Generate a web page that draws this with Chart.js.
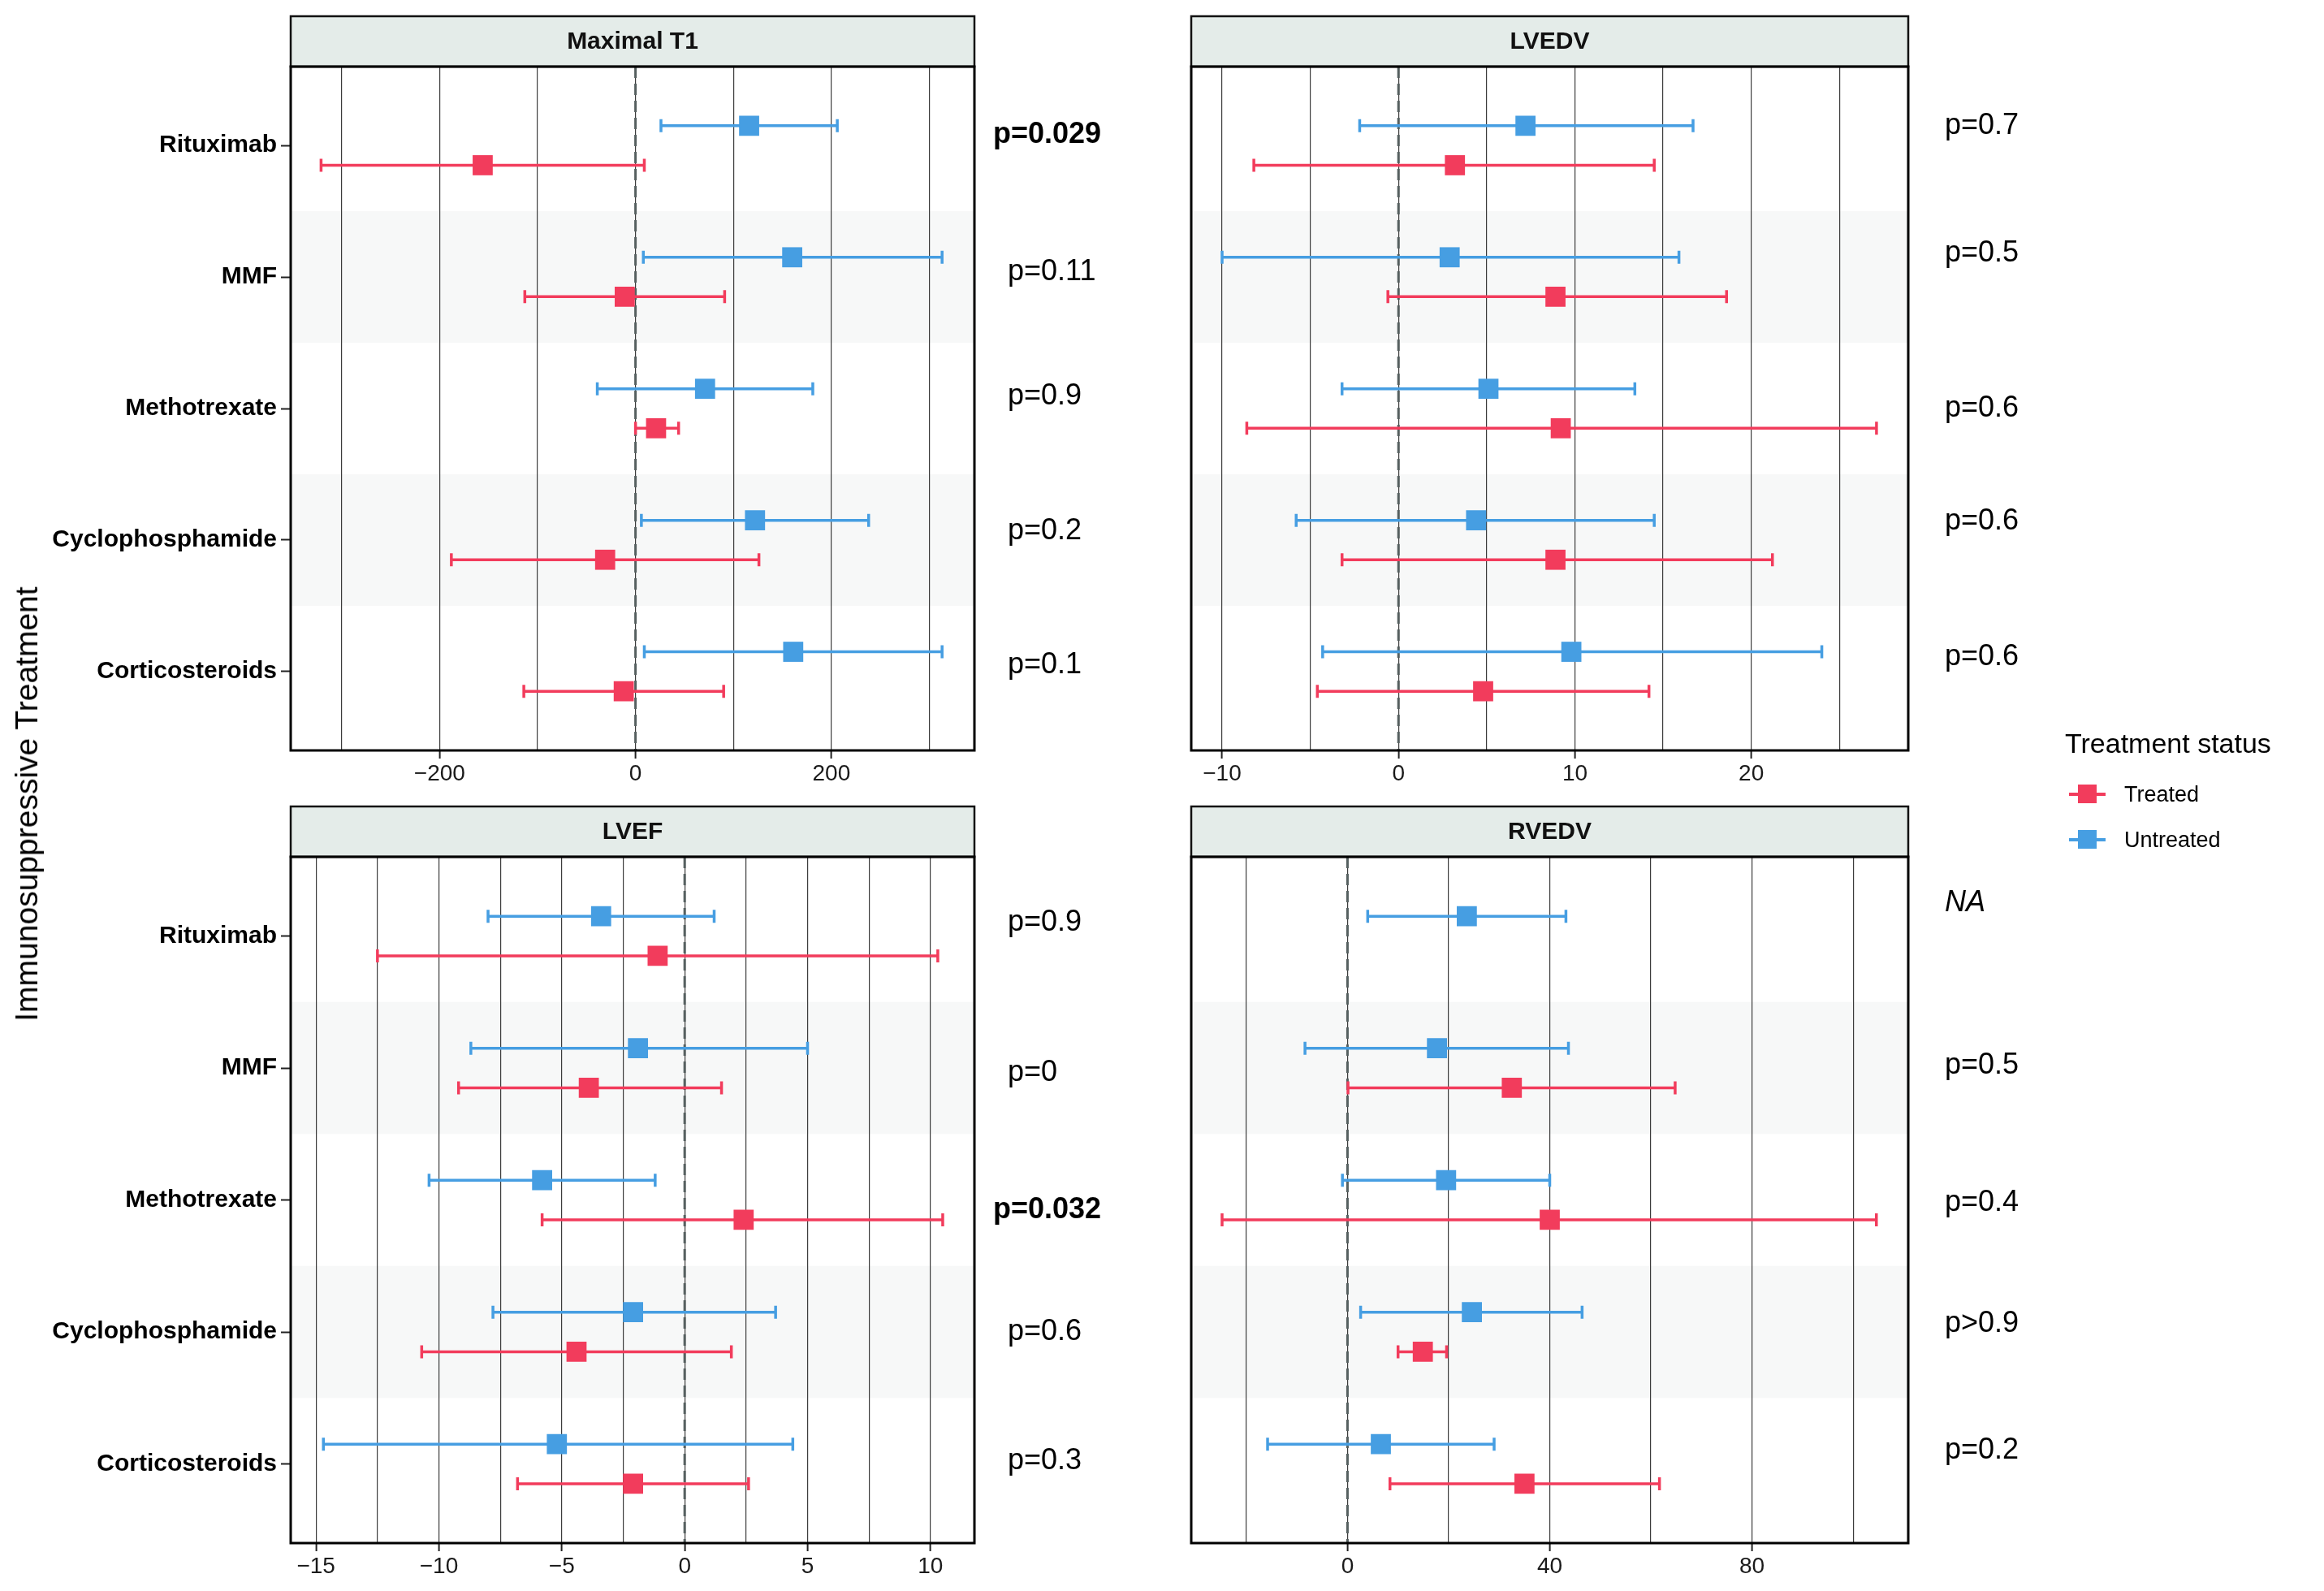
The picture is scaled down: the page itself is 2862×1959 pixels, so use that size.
<!DOCTYPE html>
<html>
<head>
<meta charset="utf-8">
<script src="https://cdn.jsdelivr.net/npm/chart.js@4.4.1/dist/chart.umd.min.js"></script>
<style>
html, body { margin: 0; padding: 0; background: #fff; }
body { width: 2862px; height: 1959px; position: relative; overflow: hidden; font-family: 'Liberation Sans', Arial, sans-serif; color: #000; }
canvas { position: absolute; }
#ytitle { position: absolute; left: 33px; top: 990px; transform: translate(-50%, -50%) rotate(-90deg); font-size: 39px; white-space: nowrap; }
.ltitle { position: absolute; left: 2543px; top: 896px; font-size: 34px; line-height: 38px; white-space: nowrap; }
.litem { position: absolute; left: 2616px; font-size: 27px; line-height: 30px; white-space: nowrap; }
.kline { position: absolute; width: 45px; height: 4px; }
.kbox { position: absolute; width: 23px; height: 23px; }
</style>
</head>
<body>
<canvas id="c1"></canvas>
<canvas id="c2"></canvas>
<canvas id="c3"></canvas>
<canvas id="c4"></canvas>
<div id="ytitle">Immunosuppressive Treatment</div>
<div class="ltitle">Treatment status</div>
<div class="kline" style="left:2548px; top:976px; background:#f23c5c"></div>
<div class="kbox" style="left:2559px; top:966px; background:#f23c5c"></div>
<div class="litem" style="top:963px">Treated</div>
<div class="kline" style="left:2548px; top:1032px; background:#469ee2"></div>
<div class="kbox" style="left:2559px; top:1022px; background:#469ee2"></div>
<div class="litem" style="top:1019px">Untreated</div>
<script>
const RED = '#f23c5c';
const BLUE = '#469ee2';
Chart.defaults.font.family = "'Liberation Sans', Arial, sans-serif";
Chart.defaults.color = '#000';

const categories = ['Rituximab', 'MMF', 'Methotrexate', 'Cyclophosphamide', 'Corticosteroids'];

// Maximal T1
const t1Treated = [-156, -11, 21, -31, -12];
const t1TreatedLow = [-321, -113, 0, -188, -114];
const t1TreatedHigh = [9, 91, 44, 126, 90];
const t1Untreated = [116, 160, 71, 122, 161];
const t1UntreatedLow = [26, 8, -39, 6, 9];
const t1UntreatedHigh = [206, 313, 181, 238, 313];
const t1P = ['p=0.029', 'p=0.11', 'p=0.9', 'p=0.2', 'p=0.1'];
const t1PRow = [0.92, 1.96, 2.91, 3.93, 4.95];
const t1Grid = [-300, -200, -100, 0, 100, 200, 300];
const t1Labels = [-200, 0, 200];

// LVEDV
const edvTreated = [3.2, 8.9, 9.2, 8.9, 4.8];
const edvTreatedLow = [-8.2, -0.6, -8.6, -3.2, -4.6];
const edvTreatedHigh = [14.5, 18.6, 27.1, 21.2, 14.2];
const edvUntreated = [7.2, 2.9, 5.1, 4.4, 9.8];
const edvUntreatedLow = [-2.2, -10.0, -3.2, -5.8, -4.3];
const edvUntreatedHigh = [16.7, 15.9, 13.4, 14.5, 24.0];
const edvP = ['p=0.7', 'p=0.5', 'p=0.6', 'p=0.6', 'p=0.6'];
const edvPRow = [0.85, 1.82, 3.0, 3.86, 4.89];
const edvGrid = [-10, -5, 0, 5, 10, 15, 20, 25];
const edvLabels = [-10, 0, 10, 20];

// LVEF
const efTreated = [-1.1, -3.9, 2.4, -4.4, -2.1];
const efTreatedLow = [-12.5, -9.2, -5.8, -10.7, -6.8];
const efTreatedHigh = [10.3, 1.5, 10.5, 1.9, 2.6];
const efUntreated = [-3.4, -1.9, -5.8, -2.1, -5.2];
const efUntreatedLow = [-8.0, -8.7, -10.4, -7.8, -14.7];
const efUntreatedHigh = [1.2, 5.0, -1.2, 3.7, 4.4];
const efP = ['p=0.9', 'p=0', 'p=0.032', 'p=0.6', 'p=0.3'];
const efPRow = [0.9, 2.04, 3.08, 4.0, 4.98];
const efGrid = [-15, -12.5, -10, -7.5, -5, -2.5, 0, 2.5, 5, 7.5, 10];
const efLabels = [-15, -10, -5, 0, 5, 10];

// RVEDV
const rvTreated = [null, 32.5, 40.0, 14.9, 35.0];
const rvTreatedLow = [null, 0.1, -24.8, 10.0, 8.4];
const rvTreatedHigh = [null, 64.8, 104.6, 19.6, 61.7];
const rvUntreated = [23.6, 17.7, 19.5, 24.6, 6.6];
const rvUntreatedLow = [4.0, -8.4, -1.0, 2.6, -15.8];
const rvUntreatedHigh = [43.2, 43.7, 40.0, 46.4, 29.0];
const rvP = ['NA', 'p=0.5', 'p=0.4', 'p>0.9', 'p=0.2'];
const rvPRow = [0.75, 1.98, 3.02, 3.94, 4.9];
const rvGrid = [-20, 0, 20, 40, 60, 80, 100];
const rvLabels = [0, 40, 80];

const panels = [
    { id: 'c1', title: 'Maximal T1', canvas: [0, 0, 1431, 990], area: [358, 82, 1200, 924], min: -352, max: 346,
      grid: t1Grid, labels: t1Labels, tr: [t1Treated, t1TreatedLow, t1TreatedHigh], un: [t1Untreated, t1UntreatedLow, t1UntreatedHigh],
      p: t1P, pRow: t1PRow, pX: 1241, showY: true },
    { id: 'c2', title: 'LVEDV', canvas: [1431, 0, 1431, 990], area: [1467, 82, 2350, 924], min: -11.75, max: 28.9,
      grid: edvGrid, labels: edvLabels, tr: [edvTreated, edvTreatedLow, edvTreatedHigh], un: [edvUntreated, edvUntreatedLow, edvUntreatedHigh],
      p: edvP, pRow: edvPRow, pX: 2395, showY: false },
    { id: 'c3', title: 'LVEF', canvas: [0, 980, 1431, 979], area: [358, 1055, 1200, 1900], min: -16.03, max: 11.79,
      grid: efGrid, labels: efLabels, tr: [efTreated, efTreatedLow, efTreatedHigh], un: [efUntreated, efUntreatedLow, efUntreatedHigh],
      p: efP, pRow: efPRow, pX: 1241, showY: true },
    { id: 'c4', title: 'RVEDV', canvas: [1431, 980, 1431, 979], area: [1467, 1055, 2350, 1900], min: -30.9, max: 110.9,
      grid: rvGrid, labels: rvLabels, tr: [rvTreated, rvTreatedLow, rvTreatedHigh], un: [rvUntreated, rvUntreatedLow, rvUntreatedHigh],
      p: rvP, pRow: rvPRow, pX: 2395, showY: false }
];

const X_AXIS_H = 50;
const STRIP_H = 62;

function points(series, shift) {
    const [est, lo, hi] = series;
    const out = [];
    est.forEach((v, i) => {
        if (v === null) return;
        out.push({ x: v, y: i + 1 + shift, lo: lo[i], hi: hi[i] });
    });
    return out;
}

function fmt(v) {
    return v < 0 ? '\u2212' + Math.abs(v) : String(v);
}

function forestPlugin(panel) {
    return {
        id: 'forest',
        beforeDraw(chart) {
            // light bands behind every second treatment row
            const { ctx, chartArea: a, scales: { y } } = chart;
            ctx.save();
            ctx.fillStyle = '#f7f8f8';
            [2, 4].forEach(r => {
                const t = y.getPixelForValue(r - 0.5), b = y.getPixelForValue(r + 0.5);
                ctx.fillRect(a.left, Math.min(t, b), a.right - a.left, Math.abs(b - t));
            });
            ctx.restore();
        },
        beforeDatasetsDraw(chart) {
            const { ctx, chartArea: a, scales: { x, y } } = chart;
            ctx.save();
            const x0 = x.getPixelForValue(0);
            ctx.strokeStyle = '#566060';
            ctx.lineWidth = 3;
            ctx.setLineDash([14, 7]);
            ctx.beginPath();
            ctx.moveTo(x0, a.top);
            ctx.lineTo(x0, a.bottom);
            ctx.stroke();
            ctx.setLineDash([]);
            // error bars
            chart.data.datasets.forEach(ds => {
                ctx.strokeStyle = ds.backgroundColor;
                ctx.lineWidth = 3.5;
                ds.data.forEach(pt => {
                    const yy = y.getPixelForValue(pt.y);
                    const l = x.getPixelForValue(pt.lo), h = x.getPixelForValue(pt.hi);
                    ctx.beginPath();
                    ctx.moveTo(l, yy); ctx.lineTo(h, yy);
                    ctx.moveTo(l, yy - 8); ctx.lineTo(l, yy + 8);
                    ctx.moveTo(h, yy - 8); ctx.lineTo(h, yy + 8);
                    ctx.stroke();
                });
            });
            ctx.restore();
        },
        afterDraw(chart) {
            const { ctx, chartArea: a, scales: { y } } = chart;
            ctx.save();
            // facet strip
            ctx.fillStyle = '#e4ece9';
            ctx.fillRect(a.left, a.top - STRIP_H, a.right - a.left, STRIP_H);
            ctx.strokeStyle = '#111';
            ctx.lineWidth = 2.5;
            ctx.strokeRect(a.left, a.top - STRIP_H, a.right - a.left, STRIP_H);
            ctx.fillStyle = '#111';
            ctx.font = "bold 30px 'Liberation Sans', Arial, sans-serif";
            ctx.textAlign = 'center';
            ctx.textBaseline = 'middle';
            ctx.fillText(panel.title, (a.left + a.right) / 2, a.top - STRIP_H / 2 + 1);
            // panel border
            ctx.strokeStyle = '#000';
            ctx.lineWidth = 3;
            ctx.strokeRect(a.left, a.top, a.right - a.left, a.bottom - a.top);
            // p-values
            const px = panel.pX - panel.canvas[0];
            ctx.textAlign = 'left';
            panel.p.forEach((t, i) => {
                let font = "36px 'Liberation Sans', Arial, sans-serif";
                let shift = 0;
                const num = parseFloat(t.replace(/[^0-9.]/g, ''));
                if (t === 'NA') font = "italic 36px 'Liberation Sans', Arial, sans-serif";
                else if (t.indexOf('=') > 0 && num < 0.05 && num > 0) { font = "bold 36px 'Liberation Sans', Arial, sans-serif"; shift = -18; }
                ctx.font = font;
                ctx.fillStyle = '#000';
                ctx.fillText(t, px + shift, y.getPixelForValue(panel.pRow[i]));
            });
            ctx.restore();
        }
    };
}

panels.forEach(panel => {
    const el = document.getElementById(panel.id);
    const [cl, ct, cw, ch] = panel.canvas;
    const [al, at, ar, ab] = panel.area;
    el.style.left = cl + 'px';
    el.style.top = ct + 'px';
    el.width = cw;
    el.height = ch;
    el.style.width = cw + 'px';
    el.style.height = ch + 'px';

    const yWidth = al - cl;
    new Chart(el, {
        type: 'scatter',
        data: {
            datasets: [
                { label: 'Untreated', data: points(panel.un, -0.15), backgroundColor: BLUE, borderColor: BLUE,
                  borderWidth: 0, pointStyle: 'rect', pointRadius: 17.5, pointHoverRadius: 17.5 },
                { label: 'Treated', data: points(panel.tr, 0.15), backgroundColor: RED, borderColor: RED,
                  borderWidth: 0, pointStyle: 'rect', pointRadius: 17.5, pointHoverRadius: 17.5 }
            ]
        },
        options: {
            responsive: false,
            animation: false,
            devicePixelRatio: 1,
            layout: {
                padding: {
                    left: 0,
                    top: at - ct,
                    right: cl + cw - ar,
                    bottom: ch - (ab - ct) - X_AXIS_H
                }
            },
            plugins: { legend: { display: false }, tooltip: { enabled: false } },
            scales: {
                x: {
                    type: 'linear',
                    min: panel.min,
                    max: panel.max,
                    afterBuildTicks: s => { s.ticks = panel.grid.map(v => ({ value: v })); },
                    afterFit: s => { s.height = X_AXIS_H; },
                    ticks: {
                        autoSkip: false,
                        maxRotation: 0,
                        padding: 2,
                        color: '#1a1a1a',
                        font: { size: 28 },
                        callback: v => panel.labels.includes(v) ? fmt(v) : ''
                    },
                    grid: {
                        color: '#3c3c3c',
                        lineWidth: 1.2,
                        drawTicks: true,
                        tickLength: 10,
                        tickWidth: 2,
                        tickColor: c => (c.tick && panel.labels.includes(c.tick.value)) ? '#222' : 'rgba(0,0,0,0)'
                    },
                    border: { display: false }
                },
                y: {
                    type: 'linear',
                    display: true,
                    min: 0.4,
                    max: 5.6,
                    reverse: true,
                    afterBuildTicks: s => { s.ticks = categories.map((c, i) => ({ value: i + 1 })); },
                    afterFit: s => { s.width = yWidth; },
                    ticks: {
                        display: panel.showY,
                        autoSkip: false,
                        padding: 5,
                        color: '#000',
                        font: { size: 30, weight: 'bold' },
                        callback: v => categories[v - 1]
                    },
                    grid: {
                        drawOnChartArea: false,
                        drawTicks: panel.showY,
                        tickLength: 12,
                        tickWidth: 2,
                        tickColor: '#222'
                    },
                    border: { display: false }
                }
            }
        },
        plugins: [forestPlugin(panel)]
    });
});
</script>
</body>
</html>
